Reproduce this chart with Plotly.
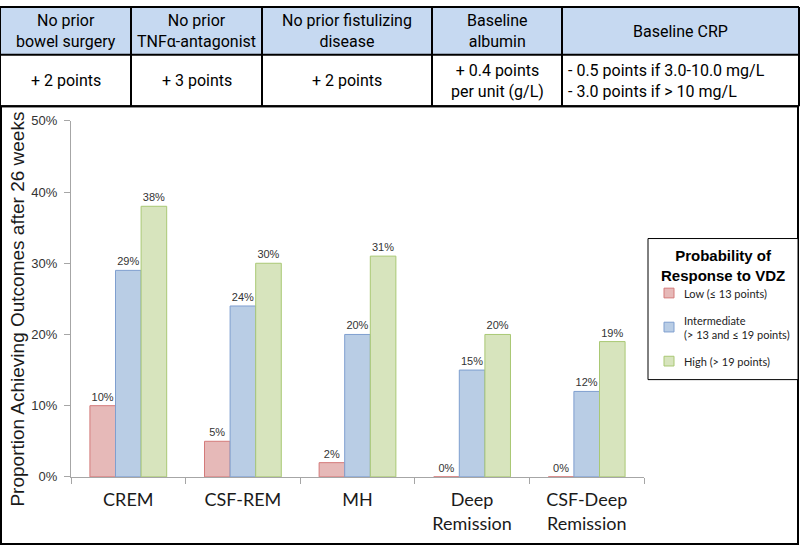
import plotly.graph_objects as go

# ---------------- data ----------------
categories = ["CREM", "CSF-REM", "MH", "Deep<br>Remission", "CSF-Deep<br>Remission"]
low_vals = [10, 5, 2, 0, 0]
inter_vals = [29, 24, 20, 15, 12]
high_vals = [38, 30, 31, 20, 19]
series_names = ["Low (≤ 13 points)", "Intermediate<br>(> 13 and ≤ 19 points)", "High (> 19 points)"]
legend_title = "<b>Probability of<br>Response to VDZ</b>"
y_ticks = [0, 10, 20, 30, 40, 50]
y_tick_labels = ["0%", "10%", "20%", "30%", "40%", "50%"]
y_title = "Proportion Achieving Outcomes after 26 weeks"

table_headers = ["No prior<br>bowel surgery", "No prior<br>TNFα-antagonist", "No prior fistulizing<br>disease",
                 "Baseline<br>albumin", "Baseline CRP"]
table_values = ["+ 2 points", "+ 3 points", "+ 2 points", "+ 0.4 points<br>per unit (g/L)",
                "- 0.5 points if 3.0-10.0 mg/L<br>- 3.0 points if > 10 mg/L"]

W, H = 800, 553
def px(x):
    return x / W
def py(y):
    return 1 - y / H

fills = ["#e6b9b8", "#b9cde5", "#d7e4bd"]
lines = ["#d47a7a", "#7f9fcf", "#a9c874"]

fig = go.Figure()
for name, vals, fc, lc in zip(series_names, [low_vals, inter_vals, high_vals], fills, lines):
    fig.add_trace(go.Bar(
        x=categories, y=[v / 100 for v in vals], name=name,
        marker=dict(color=fc, line=dict(color=lc, width=1)),
        text=[f"{v}%" for v in vals], textposition="outside",
        textfont=dict(family="Arial, Liberation Sans", size=11, color="#333333"),
        cliponaxis=False, showlegend=False,
    ))

shapes = []
annotations = []

# table
cols = [0, 131, 262, 432, 562, 799]
shapes.append(dict(type="rect", xref="paper", yref="paper", x0=px(0), x1=px(799), y0=py(0), y1=py(49),
                   fillcolor="#c6d9f1", line=dict(width=0), layer="below"))
for xc in cols:
    shapes.append(dict(type="line", xref="paper", yref="paper", x0=px(xc), x1=px(xc), y0=py(0), y1=py(102),
                       line=dict(color="black", width=2)))
for yc in [0, 49, 102]:
    shapes.append(dict(type="line", xref="paper", yref="paper", x0=px(0), x1=px(799), y0=py(yc), y1=py(yc),
                       line=dict(color="black", width=2)))
tfont = dict(family="Roboto, Arial", size=16, color="black")
for i, t in enumerate(table_headers):
    annotations.append(dict(text=t, x=px((cols[i] + cols[i + 1]) / 2), y=py(25), xref="paper", yref="paper",
                            showarrow=False, font=tfont, xanchor="center", yanchor="middle"))
for i, t in enumerate(table_values):
    if i == 4:
        annotations.append(dict(text=t, x=px(566), y=py(76), xref="paper", yref="paper", align="left",
                                showarrow=False, font=tfont, xanchor="left", yanchor="middle"))
    else:
        annotations.append(dict(text=t, x=px((cols[i] + cols[i + 1]) / 2), y=py(76), xref="paper", yref="paper",
                                showarrow=False, font=tfont, xanchor="center", yanchor="middle"))

# chart panel border
shapes.append(dict(type="rect", xref="paper", yref="paper", x0=px(1), x1=px(798), y0=py(102), y1=py(552),
                   line=dict(color="black", width=2), fillcolor="rgba(0,0,0,0)"))

# y-axis title
annotations.append(dict(text=y_title, x=px(18), y=py(311),
                        xref="paper", yref="paper", textangle=-90, showarrow=False,
                        font=dict(family="Arial, Liberation Sans", size=19, color="#1a1a1a"),
                        xanchor="center", yanchor="middle"))

# legend box (drawn)
shapes.append(dict(type="rect", xref="paper", yref="paper", x0=px(648), x1=px(798), y0=py(238), y1=py(383),
                   line=dict(color="black", width=1), fillcolor="white"))
annotations.append(dict(text=legend_title, x=px(723), y=py(266), xref="paper", yref="paper",
                        showarrow=False, font=dict(family="Arial, Liberation Sans", size=15, color="black"),
                        xanchor="center", yanchor="middle"))
leg_y = [294, 329, 364]
for name, fc, lc, yy in zip(series_names, fills, lines, leg_y):
    shapes.append(dict(type="rect", xref="paper", yref="paper", x0=px(664), x1=px(674),
                       y0=py(yy - 5), y1=py(yy + 5), fillcolor=fc, line=dict(color=lc, width=1)))
    annotations.append(dict(text=name, x=px(682), y=py(yy), xref="paper", yref="paper", align="left",
                            showarrow=False, font=dict(family="Lato, Open Sans", size=11, color="#222222"),
                            xanchor="left", yanchor="middle"))

fig.update_layout(
    width=W, height=H,
    margin=dict(l=0, r=0, t=0, b=0),
    paper_bgcolor="white", plot_bgcolor="white",
    barmode="group", bargap=0.33, bargroupgap=0,
    shapes=shapes, annotations=annotations,
    showlegend=False,
    xaxis=dict(
        domain=[px(71), px(644)],
        showline=True, linecolor="#a6a6a6", linewidth=1,
        ticks="outside", tickson="boundaries", ticklen=6, tickcolor="#a6a6a6",
        tickfont=dict(family="Lato, Open Sans", size=18, color="#1a1a1a"),
        ticklabelstandoff=7,
    ),
    yaxis=dict(
        domain=[py(483), py(117)], range=[0, 0.5],
        tickvals=[v / 100 for v in y_ticks], ticktext=y_tick_labels,
        showline=True, linecolor="#a6a6a6", linewidth=1,
        ticks="outside", ticklen=6, tickcolor="#a6a6a6",
        showgrid=False, zeroline=False,
        tickfont=dict(family="Arial, Liberation Sans", size=13, color="#333333"),
        ticklabelstandoff=4,
    ),
)

fig.write_html(
    "out.html", config={"displayModeBar": False},
    post_script=("var s=document.createElement('style');"
                 "s.textContent='html,body{margin:0!important;padding:0!important;overflow:hidden;}';"
                 "document.head.appendChild(s);"
                 "var d=document.getElementsByClassName('plotly-graph-div')[0];"
                 "if(d){d.style.position='fixed';d.style.top='0px';d.style.left='0px';}"),
)
